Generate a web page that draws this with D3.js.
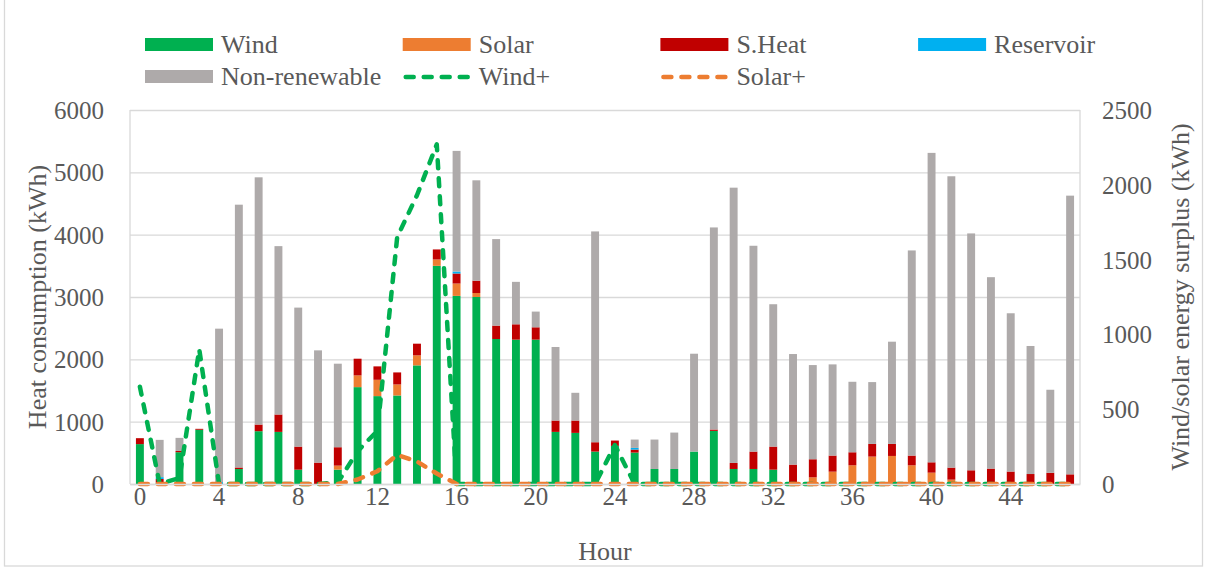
<!DOCTYPE html>
<html>
<head>
<meta charset="utf-8">
<script src="https://cdn.jsdelivr.net/npm/d3@7"></script>
<style>
  body { margin: 0; background: #fff; }
  svg text { font-family: "Liberation Serif", "Times New Roman", serif; fill: #595959; }
  .grid line { stroke: #d9d9d9; stroke-width: 1.3; }
  .grid path { display: none; }
</style>
</head>
<body>
<svg id="chart" width="1207" height="568"></svg>
<script>
const hours = d3.range(48);
const xTickLabels = [0, 4, 8, 12, 16, 20, 24, 28, 32, 36, 40, 44];
const leftTicks = [0, 1000, 2000, 3000, 4000, 5000, 6000];
const rightTicks = [0, 500, 1000, 1500, 2000, 2500];

const wind = [640, 20, 510, 870, 0, 240, 847, 836, 230, 0, 230, 1554, 1410, 1420, 1903, 3500,
  3018, 3000, 2326, 2316, 2316, 836, 820, 520, 611, 504, 241, 241, 520, 852, 241, 241,
  230, 0, 0, 0, 0, 0, 0, 0, 0, 0, 0, 0, 0, 0, 0, 0];
const solar = [0, 0, 0, 0, 0, 0, 0, 0, 0, 0, 65, 188, 262, 177, 161, 102,
  198, 64, 0, 0, 0, 0, 0, 0, 0, 0, 0, 0, 0, 0, 0, 0,
  0, 0, 107, 198, 300, 440, 450, 300, 182, 70, 20, 20, 10, 0, 0, 0];
const sHeat = [95, 60, 20, 15, 0, 25, 107, 279, 370, 343, 295, 268, 215, 193, 187, 161,
  161, 198, 215, 246, 198, 182, 198, 150, 86, 48, 0, 0, 0, 22, 97, 279,
  370, 311, 290, 258, 209, 203, 193, 156, 166, 193, 200, 227, 190, 160, 180, 155];
const reservoir = [0, 30, 0, 0, 30, 0, 0, 0, 0, 0, 0, 0, 0, 0, 0, 0,
  32, 0, 0, 0, 0, 0, 0, 0, 0, 27, 0, 0, 0, 0, 0, 0,
  0, 0, 0, 0, 0, 0, 0, 0, 0, 0, 0, 0, 0, 0, 0, 0];
const nonRenewable = [0, 598, 210, 0, 2462, 4216, 3966, 2701, 2230, 1801, 1340, 0, 0, 0, 0, 0,
  1935, 1610, 1388, 681, 252, 1180, 445, 3382, 0, 134, 472, 584, 1570, 3242, 4416, 3302,
  2284, 1774, 1511, 1463, 1131, 992, 1640, 3291, 4964, 4674, 3800, 3071, 2539, 2054, 1332, 4471];
const windPlus = [650, 0, 40, 900, 0, 0, 0, 0, 0, 0, 10, 220, 355, 1650, 1930, 2270,
  0, 0, 0, 0, 0, 0, 0, 0, 260, 0, 0, 0, 0, 0, 0, 0,
  0, 0, 0, 0, 0, 0, 0, 0, 0, 0, 0, 0, 0, 0, 0, 0];
const solarPlus = [0, 0, 0, 0, 0, 0, 0, 0, 0, 0, 0, 30, 85, 195, 150, 70,
  0, 0, 0, 0, 0, 0, 0, 0, 0, 0, 0, 0, 0, 0, 0, 0,
  0, 0, 0, 0, 0, 0, 0, 0, 0, 0, 0, 0, 0, 0, 0, 0];

const seriesKeys = ['Wind', 'Solar', 'S.Heat', 'Reservoir', 'Non-renewable'];
const colors = {
  'Wind': '#00b050', 'Solar': '#ed7d31', 'S.Heat': '#c00000',
  'Reservoir': '#00b0f0', 'Non-renewable': '#aeaaaa'
};

const table = hours.map(h => ({
  hour: h,
  'Wind': wind[h], 'Solar': solar[h], 'S.Heat': sHeat[h],
  'Reservoir': reservoir[h], 'Non-renewable': nonRenewable[h]
}));

const svg = d3.select('#chart'),
  margin = {top: 110, right: 127, bottom: 84, left: 130},
  width = +svg.attr('width') - margin.left - margin.right,
  height = +svg.attr('height') - margin.top - margin.bottom;

const fontSize = '26px';
const tickFont = '25px';
const dash = '8,10';

// outer chart border
svg.append('rect')
  .attr('x', 4.5).attr('y', -1).attr('width', 1198).attr('height', 567)
  .attr('fill', 'none').attr('stroke', '#d9d9d9').attr('stroke-width', 1.3);

const xScale = d3.scaleBand().domain(hours).range([0, width]).paddingInner(0.6).paddingOuter(0.3);
const yLeft = d3.scaleLinear().domain([0, 6000]).range([height, 0]);
const yRight = d3.scaleLinear().domain([0, 2500]).range([height, 0]);

const g = svg.append('g').attr('transform', 'translate(' + margin.left + ',' + margin.top + ')');

// gridlines
g.append('g')
  .attr('class', 'grid')
  .call(d3.axisLeft(yLeft).tickValues(leftTicks).tickSize(-width).tickFormat(''));

// plot side lines
g.append('line').attr('x1', 0).attr('x2', 0).attr('y1', 0).attr('y2', height)
  .attr('stroke', '#d9d9d9').attr('stroke-width', 1.3);
g.append('line').attr('x1', width).attr('x2', width).attr('y1', 0).attr('y2', height)
  .attr('stroke', '#d9d9d9').attr('stroke-width', 1.3);

// stacked bars
const stacked = d3.stack().keys(seriesKeys)(table);
g.selectAll('.layer')
  .data(stacked)
  .enter().append('g')
  .attr('class', 'layer')
  .attr('fill', d => colors[d.key])
  .selectAll('rect')
  .data(d => d)
  .enter().append('rect')
  .attr('x', d => xScale(d.data.hour))
  .attr('y', d => yLeft(d[1]))
  .attr('width', xScale.bandwidth())
  .attr('height', d => yLeft(d[0]) - yLeft(d[1]));

// surplus lines
const cx = h => xScale(h) + xScale.bandwidth() / 2;
const line = d3.line().x((d, i) => cx(i)).y(d => yRight(d));

g.append('path')
  .datum(windPlus)
  .attr('d', line)
  .attr('fill', 'none')
  .attr('stroke', '#00b050')
  .attr('stroke-width', 4.5)
  .attr('stroke-linecap', 'round')
  .attr('stroke-linejoin', 'round')
  .attr('stroke-dasharray', dash);

g.append('path')
  .datum(solarPlus)
  .attr('d', line)
  .attr('fill', 'none')
  .attr('stroke', '#ed7d31')
  .attr('stroke-width', 4.5)
  .attr('stroke-linecap', 'round')
  .attr('stroke-linejoin', 'round')
  .attr('stroke-dasharray', dash);

// axes
const yAxisL = g.append('g')
  .call(d3.axisLeft(yLeft).tickValues(leftTicks).tickFormat(d3.format('d')).tickSize(0).tickPadding(26));
yAxisL.select('.domain').remove();
yAxisL.selectAll('text').style('font-size', tickFont).attr('dy', '0.34em');

const yAxisR = g.append('g')
  .attr('transform', 'translate(' + width + ',0)')
  .call(d3.axisRight(yRight).tickValues(rightTicks).tickFormat(d3.format('d')).tickSize(0).tickPadding(22));
yAxisR.select('.domain').remove();
yAxisR.selectAll('text').style('font-size', tickFont).attr('dy', '0.34em');

const xAxis = g.append('g')
  .attr('transform', 'translate(0,' + height + ')')
  .call(d3.axisBottom(xScale).tickValues(xTickLabels).tickSize(0).tickPadding(3));
xAxis.select('.domain').attr('stroke', '#d9d9d9').attr('stroke-width', 1.3);
xAxis.selectAll('text').style('font-size', tickFont).attr('dy', '0.71em');

// axis titles
svg.append('text')
  .attr('transform', 'translate(46,' + (margin.top + height / 2) + ') rotate(-90)')
  .attr('text-anchor', 'middle')
  .style('font-size', fontSize)
  .text('Heat consumption (kWh)');

svg.append('text')
  .attr('transform', 'translate(1189,' + (margin.top + height / 2) + ') rotate(-90)')
  .attr('text-anchor', 'middle')
  .style('font-size', fontSize)
  .text('Wind/solar energy surplus (kWh)');

svg.append('text')
  .attr('x', margin.left + width / 2)
  .attr('y', 560)
  .attr('text-anchor', 'middle')
  .style('font-size', fontSize)
  .text('Hour');

// legend
const legendItems = [
  {name: 'Wind', type: 'rect', color: colors['Wind'], col: 0, row: 0},
  {name: 'Solar', type: 'rect', color: colors['Solar'], col: 1, row: 0},
  {name: 'S.Heat', type: 'rect', color: colors['S.Heat'], col: 2, row: 0},
  {name: 'Reservoir', type: 'rect', color: colors['Reservoir'], col: 3, row: 0},
  {name: 'Non-renewable', type: 'rect', color: colors['Non-renewable'], col: 0, row: 1},
  {name: 'Wind+', type: 'line', color: '#00b050', col: 1, row: 1},
  {name: 'Solar+', type: 'line', color: '#ed7d31', col: 2, row: 1}
];

const legend = svg.append('g').attr('class', 'legend');
const item = legend.selectAll('g')
  .data(legendItems)
  .enter().append('g')
  .attr('transform', d => 'translate(' + (145 + d.col * 257.7) + ',' + (38 + d.row * 32) + ')');

item.filter(d => d.type === 'rect').append('rect')
  .attr('width', 68).attr('height', 13)
  .attr('fill', d => d.color);

item.filter(d => d.type === 'line').append('line')
  .attr('x1', 3).attr('x2', 67).attr('y1', 7).attr('y2', 7)
  .attr('stroke', d => d.color)
  .attr('stroke-width', 4.5)
  .attr('stroke-linecap', 'round')
  .attr('stroke-dasharray', dash);

item.append('text')
  .attr('x', 76)
  .attr('y', 15)
  .style('font-size', fontSize)
  .text(d => d.name);
</script>
</body>
</html>
